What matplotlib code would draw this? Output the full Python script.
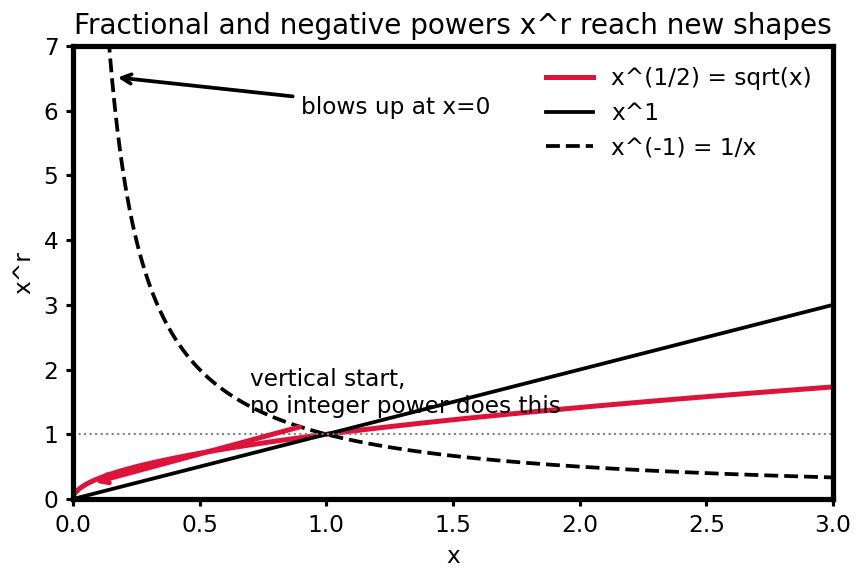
import matplotlib
matplotlib.use("Agg")
import matplotlib.pyplot as plt
import numpy as np

# exponents shown and their legend labels
powers = [0.5, 1.0, -1.0]
labels = ["x^(1/2) = sqrt(x)", "x^1", "x^(-1) = 1/x"]
colors = ["#DC143C", "black", "black"]
styles = ["-", "-", "--"]
widths = [2.4, 1.8, 1.8]

x = np.linspace(0.01, 3.0, 600)

fs = 11.2
fig = plt.figure(figsize=(865 / 150, 581 / 150), dpi=150)
ax = fig.add_axes([73 / 865, 1 - 499 / 581, 760 / 865, 453 / 581])

for r, lab, c, ls, lw in zip(powers, labels, colors, styles, widths):
    ax.plot(x, x ** r, color=c, linestyle=ls, linewidth=lw, label=lab)

ax.axhline(1.0, color="gray", linestyle=":", linewidth=1)

ax.annotate("blows up at x=0", xy=(0.16, 6.52), xytext=(0.9, 6.05),
            fontsize=fs, va="center",
            arrowprops=dict(arrowstyle="->", color="black", lw=1.8))

ax.annotate("", xy=(0.07, 0.24), xytext=(0.91, 1.13),
            arrowprops=dict(arrowstyle="->", color="#DC143C", lw=2.4))
ax.text(0.7, 1.33, "vertical start,\nno integer power does this", fontsize=fs)

ax.set_xlim(0, 3)
ax.set_ylim(0, 7)
ax.set_xlabel("x", fontsize=fs)
ax.set_ylabel("x^r", fontsize=fs)
ax.set_title("Fractional and negative powers x^r reach new shapes", fontsize=13.4)
ax.tick_params(labelsize=fs, width=1.5)
for s in ax.spines.values():
    s.set_linewidth(2.5)

ax.legend(loc="upper right", fontsize=fs, frameon=False)

fig.savefig("out.png", dpi=150)
